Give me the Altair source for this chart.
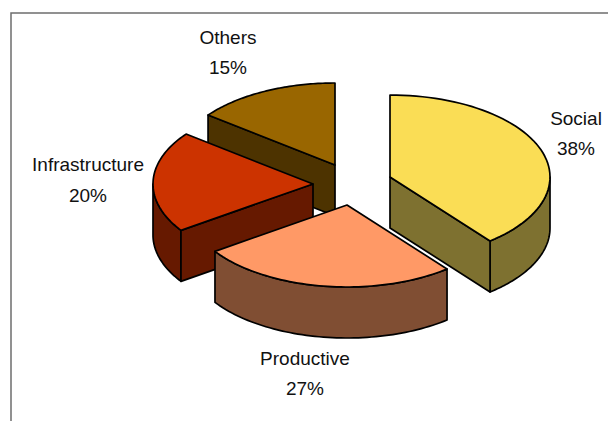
import math
import altair as alt
import pandas as pd

# Exploded 3D pie of spending shares, clockwise from twelve o'clock
labels = ["Social", "Productive", "Infrastructure", "Others"]
shares = [38, 27, 20, 15]
top_colors = ["#FADD55", "#FF9966", "#CC3300", "#996600"]
wall_colors = ["#7E7130", "#804E33", "#661900", "#4D3300"]

# Projection of each exploded slice
apex_x = [390, 347, 313, 335]
apex_y = [177, 205, 184, 165]
radius_x = 160
radius_y = 82
depth = 51
# Foreshortening of the far end of each slice, in degrees
end_skew = [4.5, 1.6, 1.5, 0]

# Label anchors: name line and percentage line
label_x = [576, 305, 88, 228]
name_y = [119, 359, 165, 38]
pct_y = [149, 389, 196, 68]

W, H = 608, 421
x_scale = alt.Scale(domain=[0, W], range=[0, W])
y_scale = alt.Scale(domain=[0, H], range=[0, H])


def rim(i, deg, drop=0):
    a = math.radians(deg)
    return (apex_x[i] + radius_x * math.sin(a),
            apex_y[i] - radius_y * math.cos(a) + drop)


def arc(i, start, end, drop=0, steps=60):
    return [rim(i, start + (end - start) * k / steps, drop) for k in range(steps + 1)]


def face(points, fill):
    frame = pd.DataFrame(points, columns=["px", "py"])
    frame["seq"] = range(len(frame))
    return alt.Chart(frame).mark_line(
        fill=fill, stroke="black", strokeWidth=1.7,
        interpolate="linear-closed", strokeJoin="round",
    ).encode(
        x=alt.X("px:Q", scale=x_scale, axis=None),
        y=alt.Y("py:Q", scale=y_scale, axis=None),
        order="seq:Q",
    )


# Slice boundaries in degrees
starts, ends, total = [], [], 0
for i, share in enumerate(shares):
    starts.append(total + (end_skew[i - 1] if i else 0))
    total += share * 3.6
    ends.append(total + end_skew[i])

S, P, I, O = 0, 1, 2, 3


def apex(i, drop=0):
    return (apex_x[i], apex_y[i] + drop)


def wedge(i):
    return [apex(i)] + arc(i, starts[i], ends[i])


def side(i, deg):
    return [apex(i), rim(i, deg), rim(i, deg, depth), apex(i, depth)]


def wall(i, a, b):
    return arc(i, a, b) + arc(i, b, a, depth)


layers = [
    # Others: cut face, then the top
    face(side(O, starts[O]), wall_colors[O]),
    face(wedge(O), top_colors[O]),
    # Infrastructure: rim, cut face, top
    face(wall(I, starts[I], 270), wall_colors[I]),
    face(side(I, starts[I]), wall_colors[I]),
    face(wedge(I), top_colors[I]),
    # Productive: rim and top
    face(wall(P, starts[P], ends[P]), wall_colors[P]),
    face(wedge(P), top_colors[P]),
    # Social: rim, cut face, top
    face(wall(S, 90, ends[S]), wall_colors[S]),
    face(side(S, ends[S]), wall_colors[S]),
    face(wedge(S), top_colors[S]),
]

# Chart frame: only the top and left edges show
frame_df = pd.DataFrame({"px": [W, 11, 11], "py": [13, 13, H], "seq": [0, 1, 2]})
frame_line = alt.Chart(frame_df).mark_line(color="#6E6E6E", strokeWidth=1.5).encode(
    x=alt.X("px:Q", scale=x_scale, axis=None),
    y=alt.Y("py:Q", scale=y_scale, axis=None),
    order="seq:Q",
)

text_rows = []
for i, name in enumerate(labels):
    text_rows.append({"px": label_x[i], "py": name_y[i], "t": name})
    text_rows.append({"px": label_x[i], "py": pct_y[i], "t": f"{shares[i]}%"})
text_layer = alt.Chart(pd.DataFrame(text_rows)).mark_text(
    font="Liberation Sans", fontSize=19, color="#111111",
    align="center", baseline="middle",
).encode(
    x=alt.X("px:Q", scale=x_scale, axis=None),
    y=alt.Y("py:Q", scale=y_scale, axis=None),
    text="t:N",
)

chart = alt.layer(frame_line, *layers, text_layer).properties(
    width=W, height=H, padding=0,
    autosize=alt.AutoSizeParams(type="none"),
    background="white",
).configure_view(stroke=None)

chart.save("out.html", embed_options={"renderer": "svg", "actions": False})
